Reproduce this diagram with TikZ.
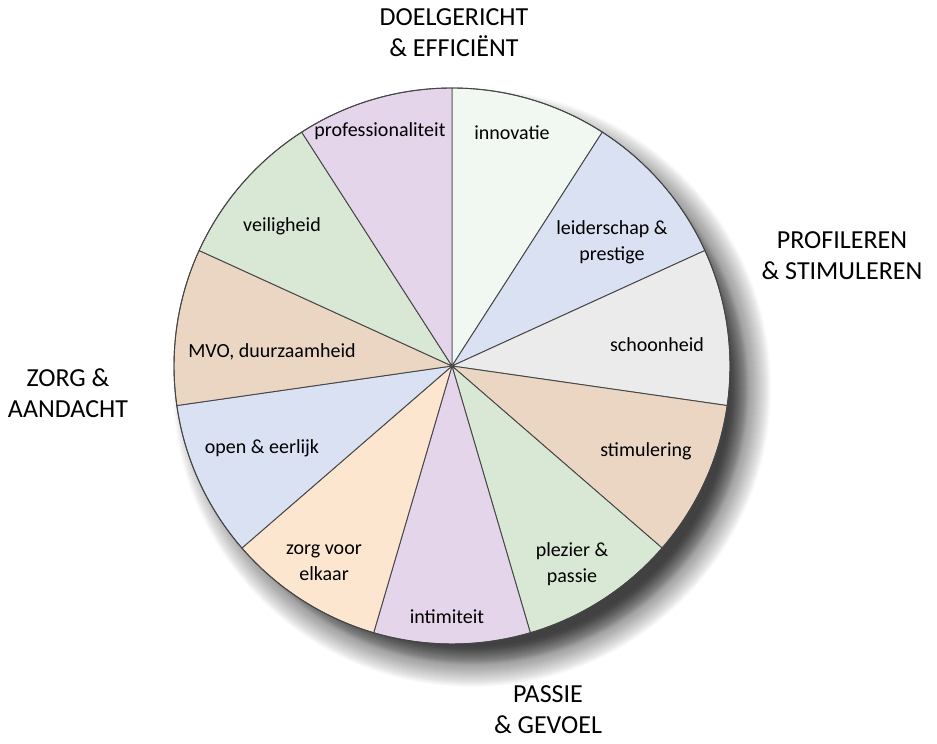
\documentclass[tikz,border=0pt]{standalone}
\usepackage{fontspec}
\setmainfont{Carlito}
\definecolor{cPurple}{HTML}{E4D5EA}
\definecolor{cMint}{HTML}{F1F7F1}
\definecolor{cBlue}{HTML}{DAE1F3}
\definecolor{cGray}{HTML}{EBEBEB}
\definecolor{cTan}{HTML}{EBD6C3}
\definecolor{cGreen}{HTML}{D9E8D5}
\definecolor{cPeach}{HTML}{FCE6CF}
\definecolor{cLine}{HTML}{454545}
\tikzset{
  wedge/.style={draw=cLine, line width=0.9pt, line join=round},
  slicelabel/.style={align=center, font=\fontsize{20}{26}\selectfont, inner sep=0pt},
  grouplabel/.style={align=center, font=\fontsize{26}{31}\selectfont, inner sep=0pt},
}
\begin{document}
\begin{tikzpicture}[x=1pt, y=1pt]
  \useasboundingbox (0,0) rectangle (937,744);
  \coordinate (c) at (452,378);
  \coordinate (sc) at (472,356);
  \def\R{278}
  \def\W{32.7272727}
  % soft drop shadow towards the lower right: dense core, thin outer fade
  \foreach \k in {-20,...,-1} {
    \fill[black, opacity=0.046] (sc) circle ({\R+\k});
  }
  \foreach \k in {0,...,21} {
    \fill[black, opacity=0.02] (sc) circle ({\R+\k});
  }
  % wedges, clockwise from the top
  \foreach \col [count=\i from 0] in {cMint,cBlue,cGray,cTan,cGreen,cPurple,cPeach,cBlue,cTan,cGreen,cPurple} {
    \pgfmathsetmacro{\a}{90-\i*\W}
    \pgfmathsetmacro{\b}{90-(\i+1)*\W}
    \filldraw[wedge, fill=\col] (c) -- ++(\a:\R) arc[start angle=\a, end angle=\b, radius=\R] -- cycle;
  }
  \draw[cLine, line width=0.9pt] (c) circle (\R);
  % slice labels
  \node[slicelabel] (innov) at (512,611) {innovatie};
  \node[slicelabel] (leider) at (612,502) {leiderschap \&\\prestige};
  \node[slicelabel] (schoon) at (657,399) {schoonheid};
  \node[slicelabel] (stim) at (646,293) {stimulering};
  \node[slicelabel] (plezier) at (572,180) {plezier \&\\passie};
  \node[slicelabel] (intim) at (447,127) {intimiteit};
  \node[slicelabel] (zorgv) at (324,181) {zorg voor\\elkaar};
  \node[slicelabel] (open) at (262,296) {open \& eerlijk};
  \node[slicelabel] (mvo) at (272,392) {MVO, duurzaamheid};
  \node[slicelabel] (veilig) at (282,518) {veiligheid};
  \node[slicelabel] (prof) at (380,613) {professionaliteit};
  % group labels around the circle
  \node[grouplabel] (doel) at (454,711) {DOELGERICHT\\\& EFFICIËNT};
  \node[grouplabel] (profil) at (842,488) {PROFILEREN\\\& STIMULEREN};
  \node[grouplabel] (zorg) at (68,351) {ZORG \&\\AANDACHT};
  \node[grouplabel] (passie) at (548,34) {PASSIE\\\& GEVOEL};
\end{tikzpicture}
\end{document}
